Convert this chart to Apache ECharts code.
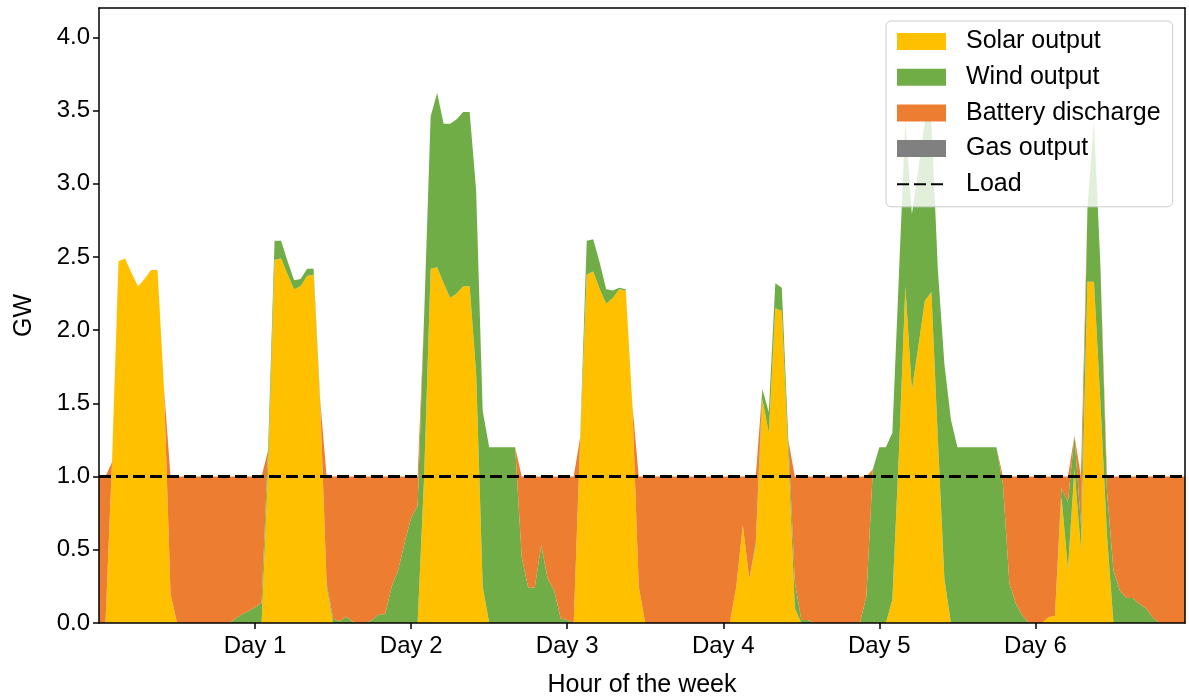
<!DOCTYPE html>
<html>
<head>
<meta charset="utf-8">
<script src="https://cdn.jsdelivr.net/npm/echarts@6/dist/echarts.min.js"></script>
<style>
  html, body { margin: 0; padding: 0; background: #fff; }
  #chart { width: 1189px; height: 698px; }
</style>
</head>
<body>
<div id="chart"></div>
<script>
// Hour of the week: 0..167, values in GW
const hours = Array.from({ length: 168 }, (_, i) => String(i));
const dayTicks = [24, 48, 72, 96, 120, 144];
const dayLabels = ['Day 1', 'Day 2', 'Day 3', 'Day 4', 'Day 5', 'Day 6'];
const yTicks = [0, 0.5, 1.0, 1.5, 2.0, 2.5, 3.0, 3.5, 4.0];

const solar = [
  0, 0, 1.1, 2.47, 2.49, 2.39, 2.30, 2.35, 2.41, 2.41, 1.6, 0.2, 0, 0, 0, 0, 0, 0, 0, 0, 0, 0, 0, 0,
  0, 0, 1.05, 2.48, 2.49, 2.38, 2.28, 2.30, 2.37, 2.38, 1.5, 0.25, 0, 0, 0, 0, 0, 0, 0, 0, 0, 0, 0, 0,
  0, 0, 1.0, 2.42, 2.43, 2.32, 2.22, 2.25, 2.30, 2.30, 1.7, 0.25, 0, 0, 0, 0, 0, 0, 0, 0, 0, 0, 0, 0,
  0, 0, 1.25, 2.38, 2.40, 2.28, 2.18, 2.22, 2.28, 2.27, 1.5, 0.25, 0, 0, 0, 0, 0, 0, 0, 0, 0, 0, 0, 0,
  0, 0, 0.25, 0.67, 0.30, 0.53, 1.53, 1.30, 2.15, 2.13, 1.15, 0.1, 0, 0, 0, 0, 0, 0, 0, 0, 0, 0, 0, 0,
  0, 0, 0.16, 1.15, 2.30, 1.59, 1.89, 2.20, 2.26, 1.25, 0.3, 0, 0, 0, 0, 0, 0, 0, 0, 0, 0, 0, 0, 0,
  0, 0, 0.04, 0.05, 0.86, 0.37, 1.05, 0.5, 2.33, 2.33, 1.5, 0.6, 0, 0, 0, 0, 0, 0, 0, 0, 0, 0, 0, 0
];

const wind = [
  0, 0, 0, 0, 0, 0, 0, 0, 0, 0, 0, 0, 0, 0, 0, 0, 0, 0, 0, 0, 0, 0.03, 0.06, 0.08,
  0.11, 0.135, 0.13, 0.13, 0.12, 0.09, 0.06, 0.05, 0.05, 0.04, 0.03, 0.02, 0.03, 0.01, 0.045, 0.01, 0, 0, 0.02, 0.06, 0.06, 0.25, 0.36, 0.55,
  0.72, 0.8, 1.1, 1.04, 1.19, 1.09, 1.19, 1.19, 1.19, 1.19, 1.25, 1.2, 1.2, 1.2, 1.2, 1.2, 1.2, 0.45, 0.24, 0.24, 0.53, 0.3, 0.22, 0.03,
  0.02, 0, 0.02, 0.23, 0.22, 0.18, 0.1, 0.05, 0.01, 0.01, 0, 0, 0, 0, 0, 0, 0, 0, 0, 0, 0, 0, 0, 0,
  0, 0, 0, 0, 0, 0.02, 0.07, 0.14, 0.17, 0.16, 0.1, 0.18, 0.02, 0.02, 0, 0, 0, 0, 0, 0, 0, 0, 0.18, 1.05,
  1.2, 1.2, 1.14, 1.22, 1.13, 1.2, 1.21, 1.23, 1.17, 1.16, 1.47, 1.39, 1.2, 1.2, 1.2, 1.2, 1.2, 1.2, 1.2, 0.95, 0.27, 0.13, 0.05, 0,
  0, 0, 0, 0, 0.06, 0.46, 0.23, 0.17, 0.5, 1.1, 0.93, 0.3, 0.36, 0.22, 0.17, 0.17, 0.13, 0.1, 0.04, 0, 0, 0, 0, 0
];

const battery = [
  1, 1, 0, 0, 0, 0, 0, 0, 0, 0, 0, 0.8, 1, 1, 1, 1, 1, 1, 1, 1, 1, 0.97, 0.94, 0.92,
  0.89, 0.865, 0, 0, 0, 0, 0, 0, 0, 0, 0, 0.73, 0.97, 0.99, 0.955, 0.99, 1, 1, 0.98, 0.94, 0.94, 0.75, 0.64, 0.45,
  0.28, 0.2, 0, 0, 0, 0, 0, 0, 0, 0, 0, 0, 0, 0, 0, 0, 0, 0.55, 0.76, 0.76, 0.47, 0.7, 0.78, 0.97,
  0.98, 1, 0, 0, 0, 0, 0, 0, 0, 0, 0, 0.75, 1, 1, 1, 1, 1, 1, 1, 1, 1, 1, 1, 1,
  1, 1, 0.75, 0.33, 0.70, 0.45, 0, 0, 0, 0, 0, 0.72, 0.98, 0.98, 1, 1, 1, 1, 1, 1, 1, 1, 0.82, 0,
  0, 0, 0, 0, 0, 0, 0, 0, 0, 0, 0, 0, 0, 0, 0, 0, 0, 0, 0, 0.05, 0.73, 0.87, 0.95, 1,
  1, 1, 0.96, 0.95, 0.08, 0.17, 0, 0.33, 0, 0, 0, 0.1, 0.64, 0.78, 0.83, 0.83, 0.87, 0.9, 0.96, 1, 1, 1, 1, 1
];

const gas = [
  0, 0, 0, 0, 0, 0, 0, 0, 0, 0, 0, 0, 0, 0, 0, 0, 0, 0, 0, 0, 0, 0, 0, 0,
  0, 0, 0, 0, 0, 0, 0, 0, 0, 0, 0, 0, 0, 0, 0, 0, 0, 0, 0, 0, 0, 0, 0, 0,
  0, 0, 0, 0, 0, 0, 0, 0, 0, 0, 0, 0, 0, 0, 0, 0, 0, 0, 0, 0, 0, 0, 0, 0,
  0, 0, 0, 0, 0, 0, 0, 0, 0, 0, 0, 0, 0, 0, 0, 0, 0, 0, 0, 0, 0, 0, 0, 0,
  0, 0, 0, 0, 0, 0, 0, 0, 0, 0, 0, 0, 0, 0, 0, 0, 0, 0, 0, 0, 0, 0, 0, 0,
  0, 0, 0, 0, 0, 0, 0, 0, 0, 0, 0, 0, 0, 0, 0, 0, 0, 0, 0, 0, 0, 0, 0, 0,
  0, 0, 0, 0, 0, 0, 0, 0, 0, 0, 0, 0, 0, 0, 0, 0, 0, 0, 0, 0, 0, 0, 0, 0
];

const load = [
  1, 1, 1, 1, 1, 1, 1, 1, 1, 1, 1, 1, 1, 1, 1, 1, 1, 1, 1, 1, 1, 1, 1, 1,
  1, 1, 1, 1, 1, 1, 1, 1, 1, 1, 1, 1, 1, 1, 1, 1, 1, 1, 1, 1, 1, 1, 1, 1,
  1, 1, 1, 1, 1, 1, 1, 1, 1, 1, 1, 1, 1, 1, 1, 1, 1, 1, 1, 1, 1, 1, 1, 1,
  1, 1, 1, 1, 1, 1, 1, 1, 1, 1, 1, 1, 1, 1, 1, 1, 1, 1, 1, 1, 1, 1, 1, 1,
  1, 1, 1, 1, 1, 1, 1, 1, 1, 1, 1, 1, 1, 1, 1, 1, 1, 1, 1, 1, 1, 1, 1, 1,
  1, 1, 1, 1, 1, 1, 1, 1, 1, 1, 1, 1, 1, 1, 1, 1, 1, 1, 1, 1, 1, 1, 1, 1,
  1, 1, 1, 1, 1, 1, 1, 1, 1, 1, 1, 1, 1, 1, 1, 1, 1, 1, 1, 1, 1, 1, 1, 1
];

const FONT = 'Liberation Sans, Arial, Helvetica, sans-serif';
const isDayTick = idx => dayTicks.indexOf(idx) >= 0;

function areaSeries(name, arr, color) {
  return {
    name: name, type: 'line', stack: 'total', data: arr,
    xAxisIndex: 0, yAxisIndex: 0,
    symbol: 'none', showSymbol: false,
    lineStyle: { width: 0, color: color },
    itemStyle: { color: color },
    areaStyle: { color: color, opacity: 1 },
    emphasis: { disabled: true },
    z: 2
  };
}

const chart = echarts.init(document.getElementById('chart'), null, { renderer: 'canvas' });
chart.setOption({
  animation: false,
  backgroundColor: '#ffffff',
  textStyle: { fontFamily: FONT },
  grid: { left: 99, right: 4, top: 8, bottom: 75, containLabel: false, outerBoundsMode: 'none' },
  legend: {
    orient: 'vertical', left: 886, top: 21,
    padding: [8, 12, 10, 10],
    itemWidth: 49, itemHeight: 17, itemGap: 10.7,
    backgroundColor: 'rgba(255,255,255,0.8)',
    borderColor: '#cccccc', borderWidth: 1, borderRadius: 5,
    textStyle: { fontFamily: FONT, fontSize: 25, color: '#000', padding: [0, 0, 0, 15] },
    data: [
      { name: 'Solar output', icon: 'rect' },
      { name: 'Wind output', icon: 'rect' },
      { name: 'Battery discharge', icon: 'rect' },
      { name: 'Gas output', icon: 'rect' },
      { name: 'Load', itemStyle: { opacity: 0 } }
    ],
    z: 10
  },
  xAxis: [{
    type: 'category', data: hours, boundaryGap: false,
    name: 'Hour of the week', nameLocation: 'middle', nameGap: 50,
    nameTextStyle: { fontFamily: FONT, fontSize: 25, color: '#000' },
    axisLine: { show: true, onZero: false, lineStyle: { color: '#000', width: 1.5 } },
    axisTick: { show: true, inside: false, length: 6, lineStyle: { color: '#000', width: 1.5 },
      interval: (idx) => isDayTick(idx) },
    axisLabel: {
      show: true, margin: 11, fontFamily: FONT, fontSize: 24, color: '#000',
      interval: (idx) => isDayTick(idx),
      formatter: (v, idx) => dayLabels[dayTicks.indexOf(Number(v))] || ''
    },
    splitLine: { show: false },
    z: 5
  }, {
    type: 'category', data: hours, boundaryGap: false, position: 'top',
    axisLine: { show: true, onZero: false, lineStyle: { color: '#000', width: 1.5 } },
    axisTick: { show: false }, axisLabel: { show: false }, splitLine: { show: false },
    z: 5
  }],
  yAxis: [{
    type: 'value', min: 0, max: 4.2, interval: 0.5,
    name: 'GW', nameLocation: 'middle', nameGap: 62,
    nameTextStyle: { fontFamily: FONT, fontSize: 25, color: '#000' },
    axisLine: { show: true, onZero: false, lineStyle: { color: '#000', width: 1.5 } },
    axisTick: { show: true, inside: false, length: 6, lineStyle: { color: '#000', width: 1.5 }, customValues: yTicks },
    axisLabel: {
      show: true, margin: 9, fontFamily: FONT, fontSize: 24, color: '#000',
      customValues: yTicks,
      formatter: v => Number(v).toFixed(1)
    },
    splitLine: { show: false },
    z: 5
  }, {
    type: 'value', min: 0, max: 4.2, position: 'right',
    axisLine: { show: true, onZero: false, lineStyle: { color: '#000', width: 1.5 } },
    axisTick: { show: false }, axisLabel: { show: false }, splitLine: { show: false },
    z: 5
  }],
  series: [
    areaSeries('Solar output', solar, '#FFC000'),
    areaSeries('Wind output', wind, '#70AD47'),
    areaSeries('Battery discharge', battery, '#ED7D31'),
    areaSeries('Gas output', gas, '#808080'),
    {
      name: 'Load', type: 'line', data: load,
      xAxisIndex: 0, yAxisIndex: 0,
      symbol: 'none', showSymbol: false,
      lineStyle: { color: '#000', width: 3, type: [12, 5] },
      itemStyle: { color: '#000' },
      emphasis: { disabled: true },
      z: 4
    }
  ]
});
</script>
</body>
</html>
